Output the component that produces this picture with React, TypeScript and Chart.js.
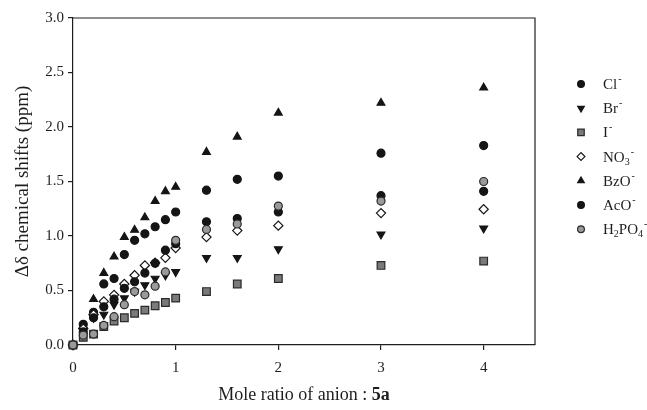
import React, { useEffect, useRef } from 'react';
import { Chart, registerables } from 'chart.js';
import { drawPoint } from 'chart.js/helpers';

Chart.register(...registerables);

const moleRatio = [0, 0.1, 0.2, 0.3, 0.4, 0.5, 0.6, 0.7, 0.8, 0.9, 1.0, 1.3, 1.6, 2, 3, 4];
const clShift = [0, 0.12, 0.25, 0.35, 0.42, 0.52, 0.58, 0.66, 0.75, 0.87, 0.93, 1.13, 1.16, 1.22, 1.37, 1.41];
const brShift = [0, 0.13, 0.25, 0.28, 0.37, 0.43, 0.49, 0.55, 0.61, 0.64, 0.67, 0.8, 0.8, 0.88, 1.015, 1.07];
const iShift = [0, 0.07, 0.1, 0.17, 0.22, 0.25, 0.29, 0.32, 0.36, 0.39, 0.43, 0.49, 0.56, 0.61, 0.73, 0.77];
const no3Shift = [0, 0.15, 0.28, 0.4, 0.46, 0.56, 0.64, 0.73, 0.755, 0.8, 0.89, 0.99, 1.05, 1.095, 1.21, 1.245];
const bzoShift = [0, 0.18, 0.42, 0.66, 0.81, 0.99, 1.055, 1.17, 1.32, 1.41, 1.45, 1.77, 1.91, 2.13, 2.22, 2.36];
const acoShift = [0, 0.19, 0.3, 0.56, 0.61, 0.83, 0.96, 1.02, 1.085, 1.15, 1.22, 1.42, 1.52, 1.55, 1.76, 1.83];
const h2po4Shift = [0, 0.09, 0.1, 0.18, 0.26, 0.37, 0.49, 0.46, 0.54, 0.67, 0.96, 1.06, 1.11, 1.275, 1.32, 1.5];

const xTicks = [0, 1, 2, 3, 4];
const yTicks = [0, 0.5, 1.0, 1.5, 2.0, 2.5, 3.0];

const yTitle = 'Δδ chemical shifts (ppm)';
const xTitleNormal = 'Mole ratio of anion : ';
const xTitleBold = '5a';

type Seg = { t: string; k: 'n' | 'sub' | 'sup' };
const legendLabels: Seg[][] = [
  [{ t: 'Cl', k: 'n' }, { t: '-', k: 'sup' }],
  [{ t: 'Br', k: 'n' }, { t: '-', k: 'sup' }],
  [{ t: 'I', k: 'n' }, { t: '-', k: 'sup' }],
  [{ t: 'NO', k: 'n' }, { t: '3', k: 'sub' }, { t: '-', k: 'sup' }],
  [{ t: 'BzO', k: 'n' }, { t: '-', k: 'sup' }],
  [{ t: 'AcO', k: 'n' }, { t: '-', k: 'sup' }],
  [{ t: 'H', k: 'n' }, { t: '2', k: 'sub' }, { t: 'PO', k: 'n' }, { t: '4', k: 'sub' }, { t: '-', k: 'sup' }],
];

const FONT = '"Liberation Serif", "Times New Roman", serif';
const INK = '#1e1e1e';

const seriesValues = [clShift, brShift, iShift, no3Shift, bzoShift, acoShift, h2po4Shift];
const seriesStyles = [
  { pointStyle: 'circle', radius: 4, rotation: 0, bg: '#151515', border: '#151515', order: 1 },
  { pointStyle: 'triangle', radius: 4.5, rotation: 180, bg: '#151515', border: '#151515', order: 1 },
  { pointStyle: 'rect', radius: 5.4, rotation: 0, bg: '#7a7a7a', border: '#2a2a2a', order: 1 },
  { pointStyle: 'rectRot', radius: 4.6, rotation: 0, bg: '#ffffff', border: '#151515', order: 1 },
  { pointStyle: 'triangle', radius: 4.5, rotation: 0, bg: '#151515', border: '#151515', order: 1 },
  { pointStyle: 'circle', radius: 4, rotation: 0, bg: '#151515', border: '#151515', order: 1 },
  { pointStyle: 'circle', radius: 4, rotation: 0, bg: '#9a9a9a', border: '#2a2a2a', order: 0 },
];

const decorPlugin = {
  id: 'decor',
  beforeDatasetsDraw(chart: any) {
    const { ctx, chartArea } = chart;
    const { left, right, top, bottom } = chartArea;
    ctx.save();
    ctx.strokeStyle = INK;
    ctx.lineWidth = 1.2;
    ctx.beginPath();
    ctx.moveTo(left, top);
    ctx.lineTo(right, top);
    ctx.lineTo(right, bottom);
    ctx.stroke();
    ctx.restore();
  },
  afterDraw(chart: any) {
    const { ctx, chartArea } = chart;
    ctx.save();
    // legend
    const mx = 581;
    const tx = 603;
    const y0 = 84;
    const dy = 24.2;
    legendLabels.forEach((segs, i) => {
      const y = y0 + i * dy;
      const st = seriesStyles[i];
      ctx.fillStyle = st.bg;
      ctx.strokeStyle = st.border;
      ctx.lineWidth = 1.2;
      drawPoint(ctx, { pointStyle: st.pointStyle as any, radius: st.radius * 0.85, rotation: st.rotation, borderWidth: 1.2 }, mx, y);
      let x = tx;
      ctx.fillStyle = INK;
      ctx.textBaseline = 'alphabetic';
      ctx.textAlign = 'left';
      const base = y + 5;
      segs.forEach((s) => {
        if (s.k === 'n') {
          ctx.font = `15px ${FONT}`;
          ctx.fillText(s.t, x, base);
        } else if (s.k === 'sub') {
          ctx.font = `10px ${FONT}`;
          ctx.fillText(s.t, x, base + 3);
        } else {
          ctx.font = `10px ${FONT}`;
          ctx.fillText(s.t, x + 1, base - 7);
        }
        x += ctx.measureText(s.t).width + (s.k === 'sup' ? 1 : 0);
      });
    });
    // x title
    const cx = (chartArea.left + chartArea.right) / 2;
    ctx.font = `18px ${FONT}`;
    const w1 = ctx.measureText(xTitleNormal).width;
    ctx.font = `bold 18px ${FONT}`;
    const w2 = ctx.measureText(xTitleBold).width;
    let sx = cx - (w1 + w2) / 2;
    ctx.fillStyle = INK;
    ctx.textAlign = 'left';
    ctx.textBaseline = 'alphabetic';
    ctx.font = `18px ${FONT}`;
    ctx.fillText(xTitleNormal, sx, 400);
    ctx.font = `bold 18px ${FONT}`;
    ctx.fillText(xTitleBold, sx + w1, 400);
    ctx.restore();
  },
};

export default function App() {
  const ref = useRef<HTMLCanvasElement | null>(null);
  useEffect(() => {
    if (!ref.current) return;
    const datasets = seriesValues.map((vals, i) => {
      const st = seriesStyles[i];
      return {
        label: legendLabels[i].map((s) => s.t).join(''),
        data: moleRatio.map((x, j) => ({ x, y: vals[j] })),
        order: st.order,
        pointStyle: st.pointStyle,
        pointRadius: st.radius,
        pointRotation: st.rotation,
        pointBackgroundColor: st.bg,
        pointBorderColor: st.border,
        pointBorderWidth: 1.2,
        showLine: false,
        clip: false,
      };
    });
    const chart = new Chart(ref.current, {
      type: 'scatter',
      data: { datasets: datasets as any },
      plugins: [decorPlugin],
      options: {
        animation: false,
        responsive: false,
        layout: { padding: { top: 18, right: 112, left: 0, bottom: 0 } },
        plugins: { legend: { display: false }, tooltip: { enabled: false } },
        scales: {
          x: {
            type: 'linear',
            min: 0,
            max: 4.5,
            afterBuildTicks: (s: any) => {
              s.ticks = xTicks.map((v) => ({ value: v }));
            },
            afterFit: (s: any) => {
              s.height = 65;
            },
            ticks: {
              font: { family: FONT, size: 15 },
              color: INK,
              padding: 9,
              callback: (v: any) => String(v),
            },
            grid: { display: true, drawOnChartArea: false, drawTicks: true, tickLength: 5, color: INK, lineWidth: 1.2 },
            border: { display: true, color: INK, width: 1.2 },
          },
          y: {
            type: 'linear',
            min: 0,
            max: 3,
            afterBuildTicks: (s: any) => {
              s.ticks = yTicks.map((v) => ({ value: v }));
            },
            afterFit: (s: any) => {
              s.width = 73;
            },
            ticks: {
              font: { family: FONT, size: 15 },
              color: INK,
              padding: 4,
              callback: (v: any) => Number(v).toFixed(1),
            },
            title: {
              display: true,
              text: yTitle,
              font: { family: FONT, size: 19 },
              color: INK,
              padding: { top: 12, bottom: 0 },
            },
            grid: { display: true, drawOnChartArea: false, drawTicks: true, tickLength: 5, color: INK, lineWidth: 1.2 },
            border: { display: true, color: INK, width: 1.2 },
          },
        },
      },
    });
    return () => chart.destroy();
  }, []);
  return (
    <div style={{ position: 'absolute', left: 0, top: 0, width: 647, height: 410, background: '#fff' }}>
      <canvas ref={ref} width={647} height={410} style={{ display: 'block' }} />
    </div>
  );
}
